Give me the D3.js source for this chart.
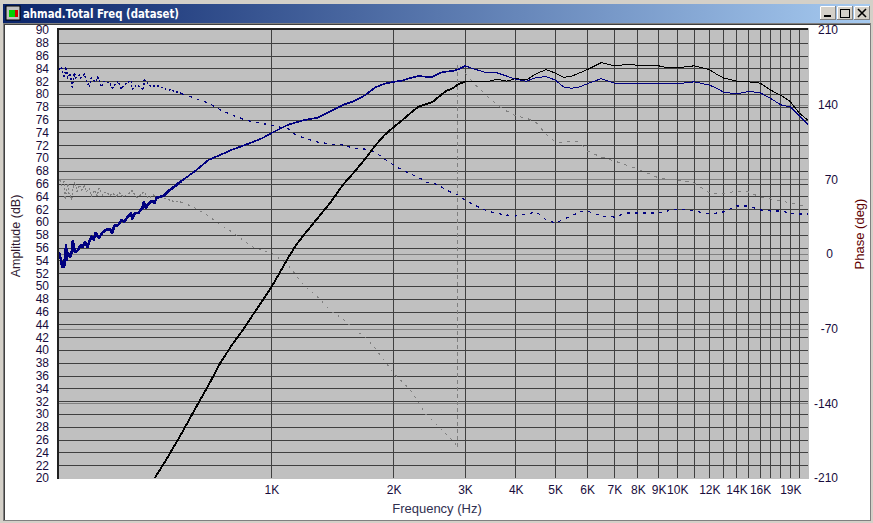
<!DOCTYPE html>
<html>
<head>
<meta charset="utf-8">
<script src="https://cdn.jsdelivr.net/npm/d3@7"></script>
<style>
html,body{margin:0;padding:0;background:#d4d0c8;overflow:hidden}
svg{display:block}
text{font-family:"Liberation Sans",Arial,sans-serif}
</style>
</head>
<body>
<svg id="c" width="873" height="523"></svg>
<script>
// ---------- data ----------
const ampTicks = [20,22,24,26,28,30,32,34,36,38,40,42,44,46,48,50,52,54,56,58,60,62,64,66,68,70,72,74,76,78,80,82,84,86,88,90];
const phaseTicks = [-210,-140,-70,0,70,140,210];
const freqGrid = [1000,2000,3000,4000,5000,6000,7000,8000,9000,10000,11000,12000,13000,14000,15000,16000,17000,18000,19000,20000];
const freqTicks = [1000,2000,3000,4000,5000,6000,7000,8000,9000,10000,12000,14000,16000,19000];
const freqLabels = ["1K","2K","3K","4K","5K","6K","7K","8K","9K","10K","12K","14K","16K","19K"];

const blackAmpFreq = [516,550,600,650,700,750,800,850,900,950,1000,1100,1150,1200,1300,1400,1500,1600,1700,1800,1900,2000,2100,2200,2300,2400,2500,2600,2700,2800,2900,3000,3200,3400,3600,3800,4000,4250,4500,4750,5000,5250,5500,5750,6000,6500,7000,7500,8000,9000,9500,10000,11000,12000,12500,13000,14000,15000,16000,17000,18000,19000,20000,21000];
const blackAmpDb = [20.0,22.8,26.9,30.9,34.5,38.1,40.8,43.1,45.5,47.7,49.8,54.4,56.4,57.9,60.6,63.1,65.8,67.8,69.8,71.9,73.6,74.8,75.9,77.0,78.0,78.4,78.8,79.7,80.5,80.9,81.6,81.9,81.9,81.9,82.3,82.0,82.4,82.2,83.2,83.8,83.3,82.6,82.8,83.3,83.8,84.9,84.4,84.6,84.5,84.4,84.1,84.1,84.4,83.8,83.1,82.5,82.0,81.9,81.7,80.6,79.8,78.8,77.0,75.9];

const blueAmpFreq = [299.5,303,305,308.5,312,313,315,319,322,324,328,334,339,343,347,352,356,360,365,369,376,384,392,400,405,411,419,427,434,440,451,454,461,470,481,485,490,500,509,515,522,542,557,576,600,650,700,750,800,850,900,950,1000,1100,1200,1300,1400,1500,1600,1700,1800,1900,2000,2100,2200,2300,2400,2500,2600,2700,2800,2900,3000,3200,3400,3600,3800,4000,4250,4500,4750,5000,5250,5500,5750,6000,6500,7000,7500,8000,9000,10000,11000,12000,12500,13000,14000,15000,16000,17000,18000,19000,20000,21000];
const blueAmpDb = [55.3,54.1,53.0,53.0,56.4,54.1,55.2,54.5,55.2,57.0,55.3,55.6,56.4,56.1,56.9,56.1,56.9,57.7,57.2,58.3,57.5,58.4,58.8,58.9,58.3,59.5,59.5,60.3,60.0,60.6,61.4,60.5,61.4,61.4,62.2,63.1,62.2,63.0,63.3,63.0,63.8,64.1,64.8,65.5,66.4,68.0,69.7,70.5,71.3,71.9,72.5,73.1,73.9,75.2,75.9,76.3,77.3,78.3,78.9,79.8,81.0,81.6,81.9,82.1,82.5,82.8,82.7,82.7,83.3,83.5,83.6,83.9,84.4,83.8,83.3,83.3,82.8,82.3,82.0,82.6,82.7,82.2,81.1,80.9,81.1,81.6,82.4,81.7,81.7,81.7,81.6,81.6,81.9,81.4,80.9,80.3,80.0,80.4,80.2,79.3,78.3,78.0,76.6,75.2];

const bluePhaseFreq = [299.5,304,306,308,310,312,315,319,323,327,330,336,339,346,350,356,360,368,373,381,387,400,406,419,427,436,451,454,466,484,486,503,527,548,576,600,650,700,750,800,850,900,950,1000,1100,1150,1200,1300,1400,1500,1600,1700,1800,1900,2000,2100,2200,2300,2400,2500,2600,2700,2800,2900,3000,3200,3400,3600,3800,4000,4250,4500,4750,5000,5250,5500,5750,6000,6500,7000,7500,8000,9000,10000,11000,12000,13000,14000,15000,16000,17000,18000,19000,20000,21000];
const bluePhaseDeg = [173,175.6,169.7,165,169.7,175.3,165,169.7,156.6,169.7,165,167.8,165,168.8,163,156.6,165,161.3,166,156.6,162,160.3,155.6,162,154.7,159.4,163,154.7,158.4,153.8,163,157.5,157.5,154.7,152.8,150.5,145.8,141.6,135,130.3,126.6,123.8,122.3,120.9,117.2,111.6,108.8,105,103.1,102.2,98.9,98.4,95.6,89.1,83.4,78.8,75,72.2,67.5,66.6,63.8,60,57.2,55.3,50.6,45,40.3,38,36.6,35.6,37.5,39.4,31.9,29.1,32.3,36.1,39.4,40.3,35.6,34.7,38.4,38.4,38.4,42.2,40.3,37.5,39.4,45,45,41.3,40.3,40.3,38.4,37.5,37.5];

const grayPhaseFreqA = [300.8,304,308.5,310,315,317,322,325,328,332,336,341,346,350,356,360,366,372,376,384,392,400,406,415,423,431,443,454,466,475,486,497,511,527,542,557,576,600,650,700,750,800,850,900,950,1000,1100,1200,1300,1400,1500,1600,1700,1800,1900,2000,2200,2400,2600,2800,2880];
const grayPhaseDegA = [69.4,64.7,67.8,51.3,66.3,56.9,51.3,63.1,67.8,58.4,64.7,60,63.8,58.4,61.6,54.4,60,54.4,61.6,55.3,58.4,54.4,56.9,54.4,57.5,53.7,56.3,59.4,53.1,55.3,58.4,52.2,55.3,53.7,52.2,51.3,49,48.8,43.1,35.6,27.2,20.6,13.1,6.6,3.8,0.9,-10.3,-29,-40.3,-53.4,-60.9,-70.3,-77.8,-88.1,-100.3,-111.6,-127.5,-150,-163,-175.3,-181];
const wrapFreq = [2880,2880];
const wrapDeg = [-181,179];
const grayPhaseFreqB = [2920,3000,3200,3400,3600,3800,4000,4250,4500,4750,5000,5250,5500,5750,6000,6500,7000,7500,8000,9000,10000,11000,12000,13000,14000,15000,16000,17000,18000,19000,20000,21000];
const grayPhaseDegB = [176,169.7,157.5,148.1,139.7,134,129.4,127.5,122.8,112.5,105,105,105.9,105,96.6,90.9,87.2,83.4,79.7,71.3,69.4,66.6,57.2,56.3,59,58.1,53.4,51.6,49.7,47.8,45.9,44.1];

// ---------- scales ----------
const m = {l:58, r:808, t:30, b:478};
const x = d3.scaleLog().domain([298,21000]).range([m.l,m.r]);
const yA = d3.scaleLinear().domain([20,90]).range([m.b,m.t]);
const yP = d3.scaleLinear().domain([-210,210]).range([m.b,m.t]);
const px = v => Math.floor(v)+0.5;
const py = v => Math.round(v)+0.5;

const svg = d3.select("#c");

// ---------- window chrome ----------
const defs = svg.append("defs");
const grad = defs.append("linearGradient").attr("id","tb");
grad.append("stop").attr("offset","0").attr("stop-color","#0a246a");
grad.append("stop").attr("offset","1").attr("stop-color","#a6caf0");
svg.append("rect").attr("width",873).attr("height",523).attr("fill","#d4d0c8");
svg.append("rect").attr("x",3).attr("y",4).attr("width",867).attr("height",19).attr("fill","url(#tb)");
svg.append("rect").attr("x",3).attr("y",23).attr("width",868).attr("height",498).attr("fill","#808080");
svg.append("rect").attr("x",4).attr("y",24).attr("width",866).attr("height",496).attr("fill","#404040");
svg.append("rect").attr("x",5).attr("y",25).attr("width",865).attr("height",495).attr("fill","#ffffff");
// icon
svg.append("rect").attr("x",6).attr("y",6).attr("width",14).attr("height",14).attr("fill","#c0c0c0").attr("stroke","#000");
svg.append("rect").attr("x",9).attr("y",10).attr("width",6).attr("height",7).attr("fill","#00d000");
svg.append("rect").attr("x",15).attr("y",10).attr("width",3).attr("height",7).attr("fill","#d00000");
svg.append("text").attr("x",23).attr("y",18).attr("fill","#fff").attr("font-size",13).attr("font-weight","bold")
  .attr("textLength",156).attr("lengthAdjust","spacingAndGlyphs")
  .style("font-family","'DejaVu Sans',sans-serif").text("ahmad.Total Freq (dataset)");
// buttons
[[820,"min"],[837,"max"],[854,"close"]].forEach(([bx,k])=>{
  svg.append("rect").attr("x",bx+.5).attr("y",6.5).attr("width",15).attr("height",13).attr("fill","#d4d0c8").attr("stroke","#808080");
  svg.append("path").attr("d",`M${bx+.5} 19V6.5H${bx+15}`).attr("stroke","#fff").attr("fill","none");
  if(k==="min") svg.append("rect").attr("x",bx+4).attr("y",15).attr("width",7).attr("height",2).attr("fill","#000");
  if(k==="max") svg.append("rect").attr("x",bx+3.5).attr("y",9.5).attr("width",9).attr("height",8).attr("fill","none").attr("stroke","#000");
  if(k==="close") svg.append("path").attr("d",`M${bx+4} 9L${bx+12} 17M${bx+12} 9L${bx+4} 17`).attr("stroke","#000").attr("stroke-width",1.6);
});

// ---------- plot area ----------
svg.append("rect").attr("x",57).attr("y",28).attr("width",752).attr("height",451).attr("fill","#c0c0c0");
const crisp = "crispEdges";
// phase grid (lighter)
svg.append("g").selectAll("line").data(phaseTicks.slice(1,-1)).join("line")
  .attr("x1",m.l).attr("x2",m.r).attr("y1",d=>py(yP(d))).attr("y2",d=>py(yP(d)))
  .attr("stroke","#808080").attr("shape-rendering",crisp);
// amplitude grid
svg.append("g").selectAll("line").data(ampTicks.slice(1,-1)).join("line")
  .attr("x1",m.l).attr("x2",m.r).attr("y1",d=>py(yA(d))).attr("y2",d=>py(yA(d)))
  .attr("stroke","#404040").attr("shape-rendering",crisp);
// frequency grid
svg.append("g").selectAll("line").data(freqGrid).join("line")
  .attr("y1",m.t).attr("y2",m.b).attr("x1",d=>px(x(d))).attr("x2",d=>px(x(d)))
  .attr("stroke","#404040").attr("shape-rendering",crisp);
// sunken frame
svg.append("path").attr("d","M58 478.5V29H808").attr("fill","none").attr("stroke","#202020").attr("stroke-width",2).attr("shape-rendering",crisp);
svg.append("path").attr("d","M58 479.5H809.5V29").attr("fill","none").attr("stroke","#ffffff").attr("shape-rendering",crisp);

// ---------- curves ----------
const lineFn = (y) => d3.line().x(d=>x(d[0])).y(d=>y(d[1]));
const zip = (a,b) => a.map((v,i)=>[v,b[i]]);
defs.append("clipPath").attr("id","pc").append("rect").attr("x",59).attr("y",30).attr("width",749).attr("height",448);
const g = svg.append("g").attr("clip-path","url(#pc)");
function curve(fr,val,y,color,w,dash,lo=0,hi=1e9){
  const pts = zip(fr,val).filter(d=>d[0]>=lo && d[0]<=hi);
  const p = g.append("path").attr("d",lineFn(y)(pts)).attr("fill","none").attr("stroke",color)
    .attr("stroke-width",w).attr("shape-rendering",crisp).attr("stroke-linejoin","round");
  if(dash) p.attr("stroke-dasharray",dash);
}
curve(grayPhaseFreqA,grayPhaseDegA,yP,"#808080",1.3,"2 2",0,600);
curve(grayPhaseFreqA,grayPhaseDegA,yP,"#808080",1,"2 5",600);
curve(wrapFreq,wrapDeg,yP,"#808080",1,"4 3");
curve(grayPhaseFreqB,grayPhaseDegB,yP,"#808080",1,"3 5");
curve(bluePhaseFreq,bluePhaseDeg,yP,"#000080",1.4,"2 2",0,600);
curve(bluePhaseFreq,bluePhaseDeg,yP,"#000080",1.2,"3 5",600);
curve(blackAmpFreq,blackAmpDb,yA,"#000000",1.9,null,0,3000);
curve(blackAmpFreq,blackAmpDb,yA,"#000000",1,null,3000);
curve(blueAmpFreq,blueAmpDb,yA,"#000080",2.6,null,0,600);
curve(blueAmpFreq,blueAmpDb,yA,"#000080",1.7,null,600,3000);
curve(blueAmpFreq,blueAmpDb,yA,"#000080",1,null,3000);

// ---------- axes ----------
const tickColor = "#180c3c";
const left = svg.append("g").attr("transform",`translate(52,0)`)
  .call(d3.axisLeft(yA).tickValues(ampTicks).tickSize(0).tickPadding(3).tickFormat(d3.format("d")));
const right = svg.append("g").attr("transform",`translate(838,0)`)
  .call(d3.axisLeft(yP).tickValues(phaseTicks).tickSize(0).tickPadding(0).tickFormat(d=>d));
right.selectAll("text").filter(d=>d===0).attr("dx",-5);
const bottom = svg.append("g").attr("transform",`translate(0,485)`)
  .call(d3.axisBottom(x).tickValues(freqTicks).tickSize(0).tickPadding(0).tickFormat((d,i)=>freqLabels[i]));
[left,right,bottom].forEach(a=>{
  a.select(".domain").remove();
  a.selectAll("text").attr("fill",tickColor).attr("font-size",12).style("font-family","'Liberation Sans',Arial,sans-serif");
});
svg.append("text").attr("transform","translate(20,236) rotate(-90)").attr("text-anchor","middle")
  .attr("font-size",12.5).attr("fill","#301830").text("Amplitude (dB)");
svg.append("text").attr("transform","translate(864,234) rotate(-90)").attr("text-anchor","middle")
  .attr("font-size",13).attr("fill","#600000").text("Phase (deg)");
svg.append("text").attr("x",437).attr("y",513).attr("text-anchor","middle")
  .attr("font-size",13).attr("fill","#303050").text("Frequency (Hz)");
</script>
</body>
</html>
